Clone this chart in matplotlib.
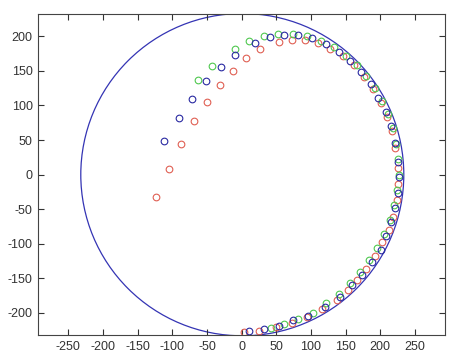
import matplotlib
matplotlib.use('Agg')
import matplotlib.pyplot as plt
from matplotlib.patches import Circle

plt.rcParams['font.family'] = ['Liberation Sans', 'DejaVu Sans']
plt.rcParams['axes.unicode_minus'] = False

# values
blue_x = [-112, -91, -71, -51, -30, -10, 20, 41, 61, 82, 102, 122, 140, 156, 172,
          186, 197, 208, 215, 222, 226, 227, 225, 221, 215, 208, 201, 188, 173,
          159, 142, 120, 96, 74, 54, 33, 11]
blue_y = [49, 82, 110, 135, 156, 173, 191, 199, 202, 202, 197, 189, 177, 165, 148,
          131, 111, 91, 71, 46, 18, -3, -26, -48, -69, -89, -109, -126, -145,
          -160, -177, -192, -205, -210, -219, -223, -226]

green_x = [-63, -42, -10, 10, 32, 52, 74, 94, 114, 133, 150, 166, 180, 192, 203,
           211, 218, 223, 226, 227, 224, 220, 214, 206, 196, 184, 171, 156, 140,
           122, 103, 82, 61, 42]
green_y = [137, 157, 182, 193, 200, 204, 204, 200, 193, 184, 172, 158, 143, 126, 107,
           88, 67, 44, 22, 0, -22, -44, -66, -86, -106, -124, -141, -157, -172,
           -186, -200, -208, -216, -222]

red_x = [-124, -105, -87, -68, -50, -31, -12, 7, 26, 54, 73, 91, 110, 128, 146,
         162, 177, 190, 201, 210, 217, 221, 226, 226, 224, 219, 212, 203, 193,
         180, 167, 154, 137, 116, 95, 73, 50, 25, 4]
red_y = [-32, 8, 44, 77, 105, 130, 150, 168, 181, 192, 195, 194, 190, 182, 171,
         158, 141, 124, 104, 83, 63, 39, 10, -13, -37, -61, -80, -97, -117,
         -136, -152, -167, -181, -194, -206, -214, -220, -226, -227]

xticks = [-250, -200, -150, -100, -50, 0, 50, 100, 150, 200, 250]
yticks = [-200, -150, -100, -50, 0, 50, 100, 150, 200]

fig = plt.figure(figsize=(4.77, 3.55), dpi=100)
ax = fig.add_axes([0.080, 0.056, 0.853, 0.904])

ax.add_patch(Circle((1, 0), 233, fill=False, color='#3434b4', lw=0.9))

marker_style = dict(linestyle='none', marker='o', markersize=4.8,
                    markerfacecolor='none', markeredgewidth=0.8)
ax.plot(red_x, red_y, markeredgecolor='#e06054', **marker_style)
ax.plot(green_x, green_y, markeredgecolor='#50c850', **marker_style)
ax.plot(blue_x, blue_y, markeredgecolor='#2a2aa2', **marker_style)

ax.set_xlim(-293.5, 293.5)
ax.set_ylim(-232, 232)
ax.set_xticks(xticks)
ax.set_yticks(yticks)
ax.tick_params(direction='in', length=4, width=0.8, top=True, right=True,
               labelsize=9, colors='#333333', pad=4)
for s in ax.spines.values():
    s.set_color('#444444')
    s.set_linewidth(0.8)

fig.savefig('out.png', dpi=100)
